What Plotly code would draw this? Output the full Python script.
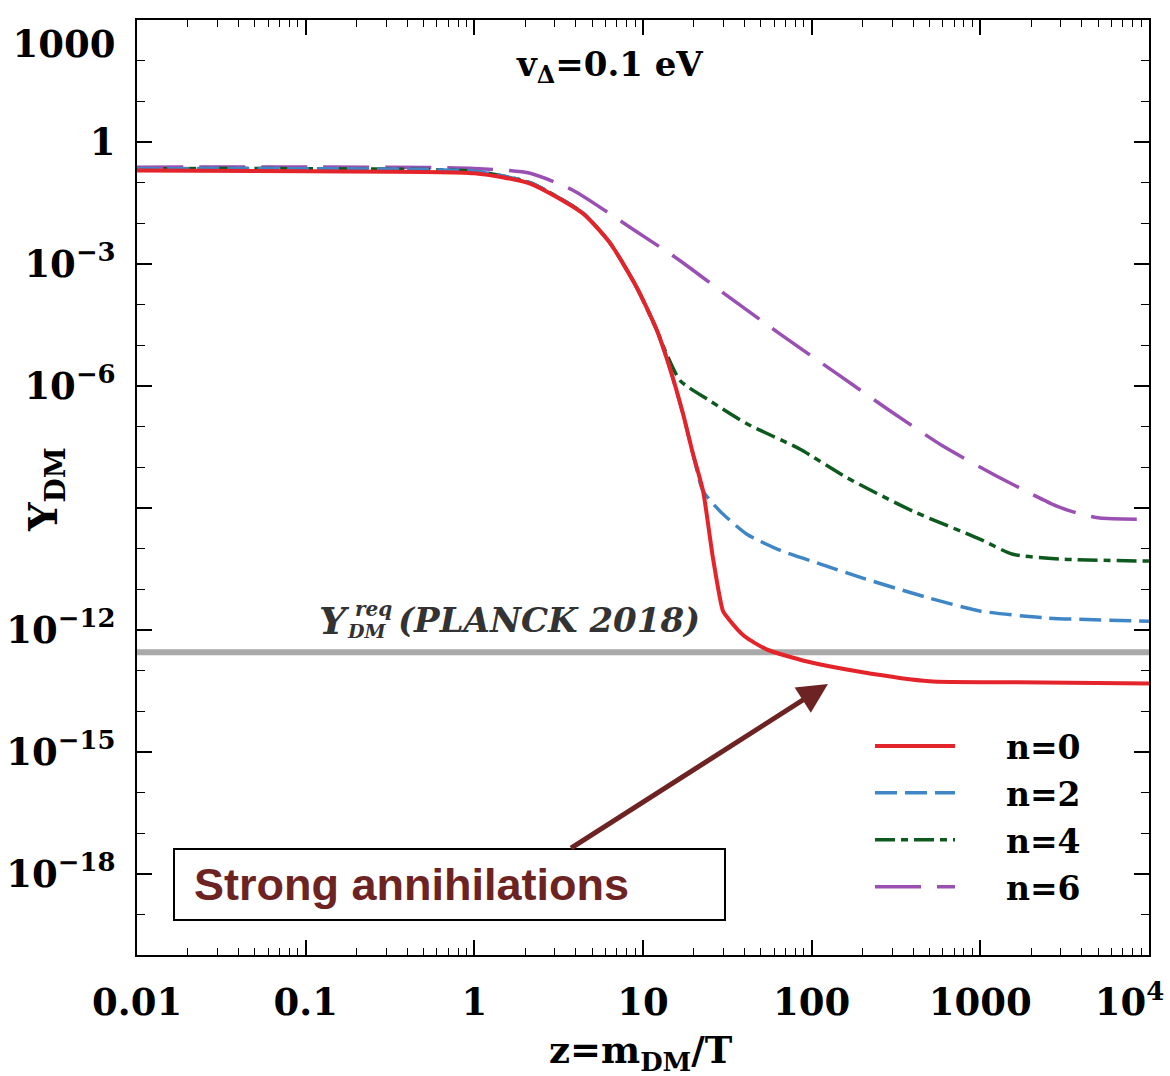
import plotly.graph_objects as go

# ---------------- data ----------------
z_n0 = [0.01, 0.1, 1.0, 2.14, 4.4, 6.4, 9.2, 12.1, 14.4, 17.3, 19.8, 22.7, 26.0, 29.8, 32.0, 40.0, 54.0, 94.0, 193.0, 500.0, 1550.0, 10000.0]
y_n0 = [0.20, 0.19, 0.17, 9.5e-2, 1.74e-2, 3.2e-3, 2.6e-4, 2.3e-5, 2.8e-6, 2.0e-7, 2.1e-8, 2.6e-9, 5.8e-11, 2.9e-12, 1.9e-12, 6.9e-13, 3.3e-13, 1.66e-13, 9.3e-14, 5.4e-14, 5.1e-14, 4.8e-14]

z_n2 = [0.01, 0.1, 1.0, 2.14, 4.4, 6.4, 9.2, 12.1, 14.4, 17.3, 19.8, 22.7, 28.6, 41.3, 64.8, 112.0, 201.0, 500.0, 993.0, 2478.0, 10000.0]
y_n2 = [0.22, 0.22, 0.19, 0.10, 1.8e-2, 3.2e-3, 2.6e-4, 2.3e-5, 2.8e-6, 2.0e-7, 2.1e-8, 2.6e-9, 8.3e-10, 2.24e-10, 9.1e-11, 4.2e-11, 1.86e-11, 6.0e-12, 2.9e-12, 1.95e-12, 1.62e-12]

z_n4 = [0.01, 0.1, 1.0, 2.14, 4.4, 6.4, 9.2, 12.1, 13.6, 16.6, 24.9, 41.3, 85.0, 162.0, 398.0, 993.0, 1560.0, 2960.0, 10000.0]
y_n4 = [0.22, 0.22, 0.19, 0.10, 1.8e-2, 3.2e-3, 2.6e-4, 2.3e-5, 7.0e-6, 1.35e-6, 4.3e-7, 1.17e-7, 2.8e-8, 5.5e-9, 8.3e-10, 1.7e-10, 7.2e-11, 5.5e-11, 4.9e-11]

z_n6 = [0.01, 1.0, 2.14, 3.84, 8.4, 16.6, 32.7, 64.8, 141.0, 291.0, 600.0, 1254.0, 2840.0, 3890.0, 5110.0, 10000.0]
y_n6 = [0.24, 0.224, 0.17, 6.5e-2, 7.9e-3, 1.2e-3, 1.48e-4, 1.9e-5, 2.0e-6, 2.45e-7, 3.3e-8, 6.0e-9, 1.1e-9, 7.1e-10, 5.6e-10, 5.2e-10]

planck_z = [0.01, 10000.0]
planck_y = [2.8e-13, 2.8e-13]

series_names = ["n=0", "n=2", "n=4", "n=6"]

x_tickvals = [0.01, 0.1, 1, 10, 100, 1000, 10000]
x_ticktext = ["0.01", "0.1", "1", "10", "100", "1000", "10<sup>4</sup>\u00a0\u00a0\u00a0"]
y_tickvals = [1e3, 1, 1e-3, 1e-6, 1e-9, 1e-12, 1e-15, 1e-18]
y_ticktext = ["<br>1000", "1", "10<sup>\u22123</sup>", "10<sup>\u22126</sup>", "", "10<sup>\u221212</sup>",
              "10<sup>\u221215</sup>", "10<sup>\u221218</sup>"]

# ---------------- styling ----------------
SERIF = "DejaVu Serif"
col_red = "#e3242b"
col_blue = "#3f86c6"
col_green = "#0d5a1f"
col_purple = "#9a50b2"
maroon = "#6e2323"
PAD = "\u00a0\u00a0\u00a0\u00a0"

x_minor = [m * 10 ** e for e in range(-2, 4) for m in range(2, 10)]
y_minor = [10.0 ** e for e in range(-20, 4) if e % 3 != 0]

fig = go.Figure()

fig.add_trace(go.Scatter(x=planck_z, y=planck_y, mode="lines", showlegend=False,
                         line=dict(color="#a9a9a9", width=6), hoverinfo="skip"))

fig.add_trace(go.Scatter(x=z_n6, y=y_n6, mode="lines", name=PAD + series_names[3], legendrank=4,
                         legendgroup="g6", line=dict(color=col_purple, width=3.5, dash="46px,16px", shape="spline", smoothing=0.6)))
fig.add_trace(go.Scatter(x=z_n4, y=y_n4, mode="lines", name=PAD + series_names[2], legendrank=3,
                         legendgroup="g4", line=dict(color=col_green, width=3.5, dash="20px,6px,7px,6px", shape="spline", smoothing=0.6)))
fig.add_trace(go.Scatter(x=z_n2, y=y_n2, mode="lines", name=PAD + series_names[1], legendrank=2,
                         legendgroup="g2", line=dict(color=col_blue, width=3.5, dash="22px,8px", shape="spline", smoothing=0.6)))
fig.add_trace(go.Scatter(x=z_n0, y=y_n0, mode="lines", name=PAD + series_names[0], legendrank=1,
                         legendgroup="g0", line=dict(color=col_red, width=4, shape="spline", smoothing=0.6)))

axis_common = dict(
    type="log", showline=True, linecolor="black", linewidth=2, mirror="ticks",
    ticks="inside", ticklen=15, tickwidth=1.5, tickcolor="black",
    showgrid=False, zeroline=False, automargin=False, ticklabeloverflow="allow",
    tickfont=dict(family=SERIF, size=37, color="black", weight="bold"),
    tickmode="array",
)

fig.update_xaxes(**axis_common, range=[-2.0004, 4.0004], tickvals=x_tickvals, ticktext=x_ticktext,
                 ticklabelstandoff=14,
                 minor=dict(tickmode="array", tickvals=x_minor, ticks="inside", ticklen=7,
                            tickwidth=1.2, tickcolor="black", showgrid=False))
fig.update_yaxes(**axis_common, range=[-20.001, 3.001], tickvals=y_tickvals, ticktext=y_ticktext,
                 ticklabelstandoff=12,
                 minor=dict(tickmode="array", tickvals=y_minor, ticks="inside", ticklen=8,
                            tickwidth=1.2, tickcolor="black", showgrid=False))

L, R, T, B = 137, 21, 20, 121
W, H = 1170, 1076
pw, ph = W - L - R, H - T - B


def px(xp):
    return (xp - L) / pw


def py(yp):
    return (H - B - yp) / ph


def note(text, x, y, size, color="black", family=SERIF, xanchor="center", **kw):
    return dict(text=text, x=px(x), y=py(y), xref="paper", yref="paper", xanchor=xanchor,
                yanchor="middle", showarrow=False, font=dict(family=family, size=size, color=color), **kw)


annotations = [
    note("<b>v<sub>\u0394</sub>=0.1 eV</b>", 609, 66, 34),
    note("<b>Y<sub>DM</sub></b>", 45, 490, 40, textangle=-90),
    note("<b>z=m<sub>DM</sub>/T</b>", 641, 1052, 37),
    # Planck label
    note("<b><i>Y</i></b>", 317, 620, 38, color="#333333", xanchor="left"),
    note("<b><i>req</i></b>", 353, 609, 20, color="#333333", xanchor="left"),
    note("<b><i>DM</i></b>", 345, 631, 19, color="#333333", xanchor="left"),
    note("<b><i>(PLANCK 2018)</i></b>", 396, 620, 34, color="#333333", xanchor="left"),
    # box text
    note("<b>Strong annihilations</b>", 192, 884, 45, color=maroon, family="Liberation Sans", xanchor="left"),
    # arrow
    dict(text=" ", x=px(828), y=py(684), xref="paper", yref="paper", showarrow=True,
         ax=568 - 828, ay=850 - 684, axref="pixel", ayref="pixel",
         arrowcolor=maroon, arrowwidth=5, arrowhead=2, arrowsize=1.2),
]

shapes = [
    dict(type="rect", xref="paper", yref="paper", x0=px(174), x1=px(725), y0=py(920), y1=py(849),
         line=dict(color="black", width=2), fillcolor="white", layer="below"),
]

fig.update_layout(
    width=W, height=H, margin=dict(l=L, r=R, t=T, b=B, autoexpand=False),
    paper_bgcolor="white", plot_bgcolor="white",
    annotations=annotations, shapes=shapes,
    legend=dict(x=px(870), y=py(718), xanchor="left", yanchor="top",
                bgcolor="rgba(255,255,255,0)", itemwidth=80, tracegroupgap=1,
                font=dict(family=SERIF, size=33, color="black", weight="bold")),
)

fig.write_html("out.html")
